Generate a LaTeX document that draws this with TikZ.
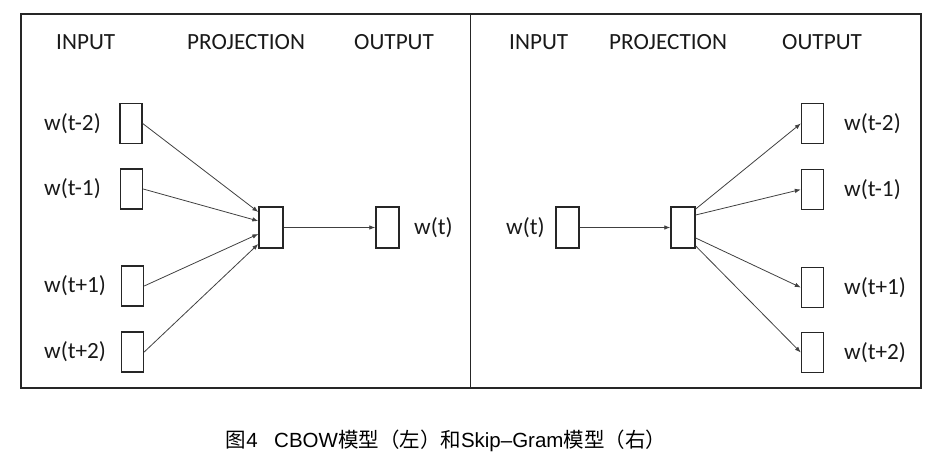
\documentclass[tikz,border=0pt]{standalone}
\usepackage{fontspec}
\setmainfont{Carlito}
\newfontfamily\cjk{Noto Sans CJK SC}
\newfontfamily\capl{Liberation Sans}
\usetikzlibrary{calc,arrows.meta}
\begin{document}
\begin{tikzpicture}[x=1pt,y=-1pt,
  wbox/.style={draw=black!85,line width=1.4pt,rectangle,inner sep=0pt,minimum width=22pt,minimum height=40pt},
  lab/.style={font=\fontsize{23.2}{27}\selectfont,inner sep=0pt,anchor=west,text=black!90},
  head/.style={font=\fontsize{23.2}{27}\selectfont,inner sep=0pt,anchor=base west,text=black!90},
  conn/.style={draw=black!75,line width=0.8pt,-{Latex[length=6pt,width=4.5pt]}},
  panel/.style={draw=black!85,line width=1.6pt}]
\useasboundingbox (0,0) rectangle (930,468);
% frames
\draw[panel] (21,14) rectangle (921,388);
\draw[panel] (470.5,14) -- (470.5,388);
% ---------- CBOW (left) ----------
\node[head] (h1) at (56,50) {INPUT};
\node[head] (h2) at (187,50) {PROJECTION};
\node[head] (h3) at (354,50) {OUTPUT};
\node[wbox] (a1) at (131,123.5) {};
\node[wbox] (a2) at (131.5,189) {};
\node[wbox] (a3) at (132.5,286) {};
\node[wbox] (a4) at (132.5,352) {};
\node[wbox,minimum width=24pt,minimum height=41pt] (ap) at (271,227.5) {};
\node[wbox,minimum width=23pt,minimum height=41pt] (ao) at (387.5,227.5) {};
\node[lab] (la1) at (44,124) {w(t-2)};
\node[lab] (la2) at (44,189) {w(t-1)};
\node[lab] (la3) at (44,286) {w(t+1)};
\node[lab] (la4) at (44,352) {w(t+2)};
\node[lab] (lao) at (414,228) {w(t)};
\coordinate (ap1) at ($(ap.west)+(0,-15.5)$);
\coordinate (ap2) at ($(ap.west)+(0,-6.5)$);
\coordinate (ap3) at ($(ap.west)+(0,6.5)$);
\coordinate (ap4) at ($(ap.west)+(0,16.5)$);
\draw[conn] (a1.east) -- (ap1);
\draw[conn] (a2.east) -- (ap2);
\draw[conn] (a3.east) -- (ap3);
\draw[conn] (a4.east) -- (ap4);
\draw[conn] (ap.east) -- (ao.west);
% ---------- Skip-Gram (right) ----------
\node[head] (g1) at (509,50) {INPUT};
\node[head] (g2) at (609,50) {PROJECTION};
\node[head] (g3) at (782,50) {OUTPUT};
\node[wbox,minimum width=23pt,minimum height=41pt] (bi) at (567.5,227.5) {};
\node[wbox,minimum width=24pt,minimum height=41pt] (bp) at (683,227.5) {};
\node[wbox] (b1) at (812.5,123.5) {};
\node[wbox] (b2) at (812.5,189.5) {};
\node[wbox] (b3) at (812.5,287.5) {};
\node[wbox] (b4) at (812.5,352.5) {};
\node[lab] (lbi) at (506,228) {w(t)};
\node[lab] (lb1) at (844,124) {w(t-2)};
\node[lab] (lb2) at (844,190) {w(t-1)};
\node[lab] (lb3) at (844,288) {w(t+1)};
\node[lab] (lb4) at (844,353) {w(t+2)};
\coordinate (bp1) at ($(bp.east)+(0,-18.5)$);
\coordinate (bp2) at ($(bp.east)+(0,-12.5)$);
\coordinate (bp3) at ($(bp.east)+(0,10.5)$);
\coordinate (bp4) at ($(bp.east)+(0,18.5)$);
\draw[conn] (bi.east) -- (bp.west);
\draw[conn] (bp1) -- (b1.west);
\draw[conn] (bp2) -- (b2.west);
\draw[conn] (bp3) -- (b3.west);
\draw[conn] (bp4) -- (b4.west);
% ---------- caption ----------
\node[inner sep=0pt,font=\fontsize{20.5}{24}\selectfont] (cap) at (446,441)
  {{\cjk 图}{\capl 4\hspace{0.8em}CBOW}{\cjk 模型（左）和}{\capl Skip–Gram}{\cjk 模型（右）}};
\end{tikzpicture}
\end{document}
